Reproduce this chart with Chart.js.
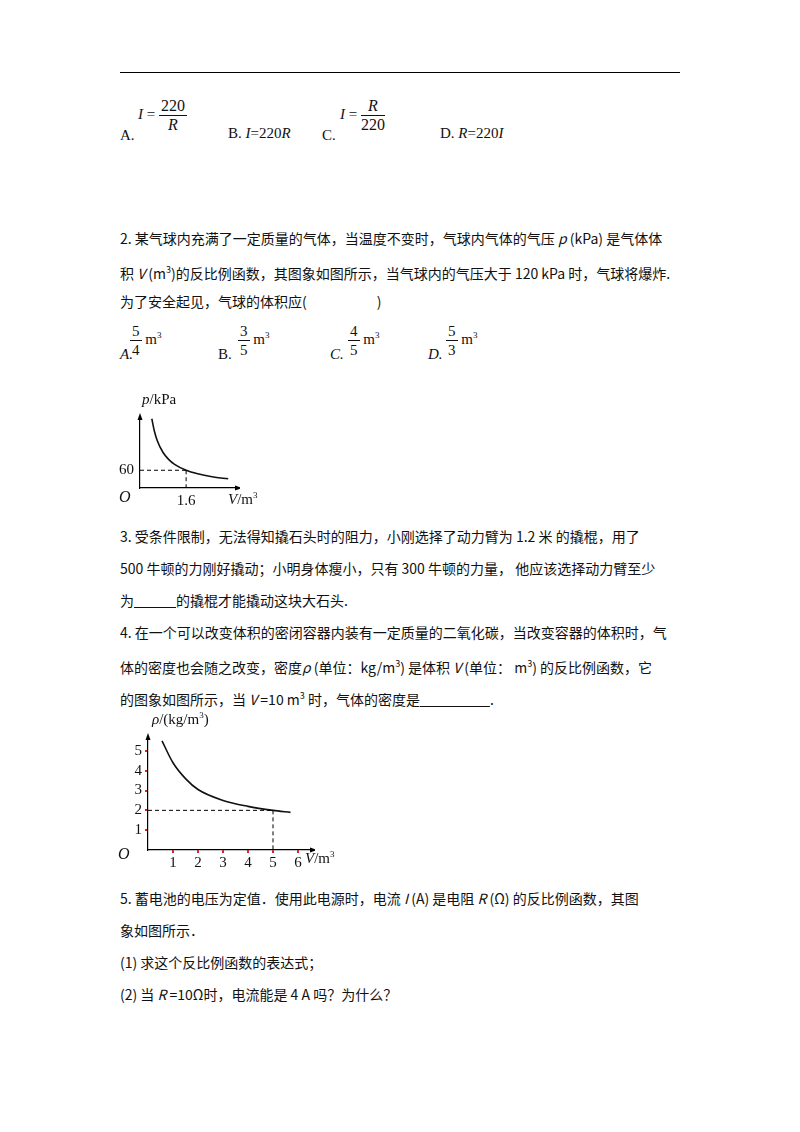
<!DOCTYPE html>
<html>
<head>
<meta charset="utf-8">
<script src="https://cdn.jsdelivr.net/npm/chart.js@4"></script>
<style>
body { margin:0; background:#fff; width:800px; height:1132px; position:relative; font-family:"Noto Sans CJK SC", sans-serif; color:#111; }
.l { position:absolute; left:120px; font-size:14px; line-height:18px; white-space:nowrap; }
.t { position:absolute; font-family:"Liberation Serif", serif; font-size:15px; white-space:nowrap; }
.i { font-style:italic; }
.fr { display:inline-block; vertical-align:middle; text-align:center; font-family:"Liberation Serif", serif; }
.fr span { display:block; line-height:18px; }
.fr span.n { border-bottom:1px solid #111; padding:0 2px; }
canvas { position:absolute; }
</style>
</head>
<body>
<div style="position:absolute;left:120px;top:72px;width:560px;height:1px;background:#000"></div>

<div class="t" style="left:120px;top:97px;font-size:15px">
  <span style="position:absolute;top:30px">A.</span>
  <span style="position:absolute;left:18px;top:0"><span class="i">I</span> = <span class="fr" style="font-size:16px"><span class="n">220</span><span class="i">R</span></span></span>
</div>
<div class="t" style="left:228px;top:125px">B. <span class="i">I</span>=220<span class="i">R</span></div>
<div class="t" style="left:322px;top:97px">
  <span style="position:absolute;top:30px">C.</span>
  <span style="position:absolute;left:18px;top:0"><span class="i">I</span> = <span class="fr" style="font-size:16px"><span class="n i">R</span><span>220</span></span></span>
</div>
<div class="t" style="left:440px;top:125px">D. <span class="i">R</span>=220<span class="i">I</span></div>

<div class="l" style="top:229px">2. 某气球内充满了一定质量的气体，当温度不变时，气球内气体的气压 <i>p</i> (kPa) 是气体体</div>
<div class="l" style="top:261px">积 <i>V</i> (m<sup style="font-size:9px">3</sup>)的反比例函数，其图象如图所示，当气球内的气压大于 120 kPa 时，气球将爆炸.</div>
<div class="l" style="top:292px">为了安全起见，气球的体积应(　　　　　)</div>

<div class="t" style="left:120px;top:322px"><span class="i" style="position:absolute;top:24px">A.</span><span style="position:absolute;left:10px;top:0"><span class="fr"><span class="n">5</span><span>4</span></span> m<sup style="font-size:9px">3</sup></span></div>
<div class="t" style="left:218px;top:322px"><span style="position:absolute;top:24px">B.</span><span style="position:absolute;left:20px;top:0"><span class="fr"><span class="n">3</span><span>5</span></span> m<sup style="font-size:9px">3</sup></span></div>
<div class="t" style="left:330px;top:322px"><span class="i" style="position:absolute;top:24px">C.</span><span style="position:absolute;left:18px;top:0"><span class="fr"><span class="n">4</span><span>5</span></span> m<sup style="font-size:9px">3</sup></span></div>
<div class="t" style="left:428px;top:322px"><span class="i" style="position:absolute;top:24px">D.</span><span style="position:absolute;left:18px;top:0"><span class="fr"><span class="n">5</span><span>3</span></span> m<sup style="font-size:9px">3</sup></span></div>

<canvas id="c1" style="left:110px;top:405px;width:130px;height:105px"></canvas>
<div class="t" style="left:142px;top:391px"><span class="i">p</span>/kPa</div>
<div class="t i" style="left:119px;top:488px;font-size:16px">O</div>
<div class="t" style="left:228px;top:490px"><span class="i">V</span>/m<sup style="font-size:9px">3</sup></div>

<div class="l" style="top:527px">3. 受条件限制，无法得知撬石头时的阻力，小刚选择了动力臂为 1.2 米 的撬棍，用了</div>
<div class="l" style="top:559px">500 牛顿的力刚好撬动；小明身体瘦小，只有 300 牛顿的力量， 他应该选择动力臂至少</div>
<div class="l" style="top:591px">为<u>　　　</u>的撬棍才能撬动这块大石头.</div>
<div class="l" style="top:623px">4. 在一个可以改变体积的密闭容器内装有一定质量的二氧化碳，当改变容器的体积时，气</div>
<div class="l" style="top:655px">体的密度也会随之改变，密度<i>ρ</i> (单位：kg/m<sup style="font-size:9px">3</sup>) 是体积 <i>V</i> (单位： m<sup style="font-size:9px">3</sup>) 的反比例函数，它</div>
<div class="l" style="top:687px">的图象如图所示，当 <i>V</i> =10 m<sup style="font-size:9px">3</sup> 时，气体的密度是<u>　　　　　</u>.</div>

<canvas id="c2" style="left:118px;top:725px;width:197px;height:147px"></canvas>
<div class="t" style="left:152px;top:710px"><span class="i">ρ</span>/(kg/m<sup style="font-size:9px">3</sup>)</div>
<div class="t i" style="left:118px;top:845px;font-size:16px">O</div>
<div class="t" style="left:305px;top:849px"><span class="i">V</span>/m<sup style="font-size:9px">3</sup></div>

<div class="l" style="top:889px">5. 蓄电池的电压为定值．使用此电源时，电流 <i>I</i> (A) 是电阻 <i>R</i> (Ω) 的反比例函数，其图</div>
<div class="l" style="top:921px">象如图所示．</div>
<div class="l" style="top:953px">(1) 求这个反比例函数的表达式；</div>
<div class="l" style="top:985px">(2) 当 <i>R</i> =10Ω时，电流能是 4 A 吗？为什么？</div>

<script>
// Graphique 1 : p (kPa) en fonction de V (m3)
const volumes1 = [0.41, 0.5, 0.6, 0.8, 1.0, 1.2, 1.6, 2.0, 2.5, 3.06];
const pressions1 = [234, 192, 160, 120, 96, 80, 60, 48, 38, 31];
const ticksX1 = [1.6];
const ticksY1 = [60];
const marque1 = { x: 1.6, y: 60 };

// Graphique 2 : densité en fonction de V
const volumes2 = [0.56, 1, 1.5, 2, 3, 4, 5, 5.7];
const densites2 = [5.5, 4.4, 3.6, 3.05, 2.5, 2.2, 2.0, 1.9];
const ticksX2 = [1, 2, 3, 4, 5, 6];
const ticksY2 = [1, 2, 3, 4, 5];
const marque2 = { x: 5, y: 2 };

const police = { family: 'Liberation Serif', size: 15 };

// Plugin : flèches des axes + pointillés vers le point repère
function pluginRepere(marque) {
    return {
        id: 'repere',
        afterDraw(chart) {
            const { ctx, chartArea: a, scales } = chart;
            const px = scales.x.getPixelForValue(marque.x);
            const py = scales.y.getPixelForValue(marque.y);
            ctx.save();
            ctx.strokeStyle = '#000';
            ctx.lineWidth = 1;
            ctx.setLineDash([4, 3]);
            ctx.beginPath();
            ctx.moveTo(a.left, py); ctx.lineTo(px, py);
            ctx.moveTo(px, py); ctx.lineTo(px, a.bottom);
            ctx.stroke();
            ctx.setLineDash([]);
            ctx.fillStyle = '#000';
            ctx.beginPath();
            ctx.moveTo(a.left, a.top - 4); ctx.lineTo(a.left - 2.5, a.top + 3); ctx.lineTo(a.left + 2.5, a.top + 3);
            ctx.fill();
            ctx.beginPath();
            ctx.moveTo(a.right + 4, a.bottom); ctx.lineTo(a.right - 3, a.bottom - 2.5); ctx.lineTo(a.right - 3, a.bottom + 2.5);
            ctx.fill();
            ctx.restore();
        }
    };
}

function creerGraphique(id, xs, ys, xMax, yMax, ticksX, ticksY, marque, traits, padRight) {
    const ctx = document.getElementById(id).getContext('2d');
    return new Chart(ctx, {
        type: 'line',
        data: {
            datasets: [{
                data: xs.map((x, i) => ({ x: x, y: ys[i] })),
                borderColor: '#111',
                borderWidth: 1.6,
                pointRadius: 0,
                tension: 0.4,
                cubicInterpolationMode: 'monotone',
                fill: false
            }]
        },
        plugins: [pluginRepere(marque)],
        options: {
            responsive: false,
            animation: false,
            layout: { padding: { top: 5, right: padRight } },
            plugins: { legend: { display: false }, tooltip: { enabled: false } },
            scales: {
                x: {
                    type: 'linear', min: 0, max: xMax,
                    afterBuildTicks: s => { s.ticks = ticksX.map(v => ({ value: v })); },
                    afterFit: s => { s.height = 22; },
                    border: { color: '#000', width: 1.2 },
                    grid: { display: traits, drawOnChartArea: false, color: '#e02020', tickLength: 3, lineWidth: 2 },
                    ticks: { color: '#111', font: police, padding: 1, maxRotation: 0, callback: v => String(v) }
                },
                y: {
                    type: 'linear', min: 0, max: yMax,
                    afterBuildTicks: s => { s.ticks = ticksY.map(v => ({ value: v })); },
                    afterFit: s => { s.width = 30; },
                    border: { color: '#000', width: 1.2 },
                    grid: { display: traits, drawOnChartArea: false, color: '#e02020', tickLength: 3, lineWidth: 2 },
                    ticks: { color: '#111', font: police, padding: 3, callback: v => String(v) }
                }
            }
        }
    });
}

document.addEventListener('DOMContentLoaded', () => {
    const c1 = document.getElementById('c1'); c1.width = 130; c1.height = 105;
    const c2 = document.getElementById('c2'); c2.width = 197; c2.height = 147;
    creerGraphique('c1', volumes1, pressions1, 3.4, 240, ticksX1, ticksY1, marque1, false, 2);
    creerGraphique('c2', volumes2, densites2, 6.6, 5.7, ticksX2, ticksY2, marque2, true, 2);
});
</script>
</body>
</html>
